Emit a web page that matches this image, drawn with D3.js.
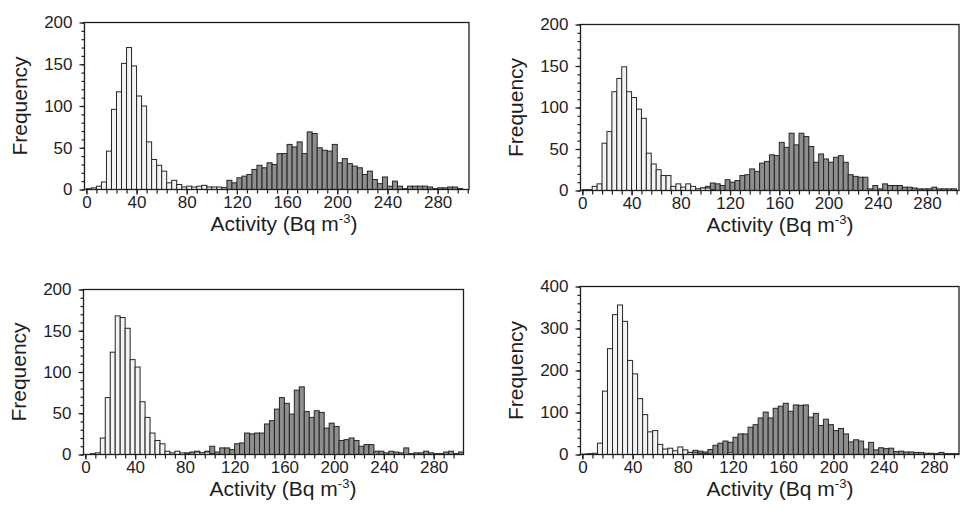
<!DOCTYPE html>
<html>
<head>
<meta charset="utf-8">
<script src="https://cdn.jsdelivr.net/npm/d3@7/dist/d3.min.js"></script>
<style>
body { margin: 0; background: #fff; }
svg { display: block; font-family: "Liberation Sans", Arial, Helvetica, sans-serif; }
</style>
</head>
<body>
<div id="chart"></div>
<script>
// histogram bins: 4 Bq m-3 wide, starting at 0
const binWidth = 4;
const binStarts = d3.range(0, 304, binWidth);

// top-left panel
const lowA = [1,2,4,9,46,96,117,151,170,148, 112,100,57,36,29,22,8,11,6,3,
  4,3,4,5,3,3,3,2,0,0, 0,0,0,0,0,0,0,0,0,0, 0,0,0,0,0,0,0,0,0,0,
  0,0,0,0,0,0,0,0,0,0, 0,0,0,0,0,0,0,0,0,0, 0,0,0,0,0,0];
const highA = [0,0,0,0,0,0,0,0,0,0, 0,0,0,0,0,0,0,0,0,0,
  1,2,1,4,1,2,2,2,11,8, 14,16,18,24,29,26,32,30,43,43, 54,51,57,43,69,67,50,47,46,54,
  32,37,31,28,26,18,22,12,7,15, 4,10,4,1,4,4,4,4,3,1, 2,2,3,3,1,0];

// top-right panel
const lowB = [1,1,5,8,57,71,119,135,149,119, 112,98,87,45,32,25,18,18,5,8,
  4,8,5,2,3,3,1,0,0,0, 0,0,0,0,0,0,0,0,0,0, 0,0,0,0,0,0,0,0,0,0,
  0,0,0,0,0,0,0,0,0,0, 0,0,0,0,0,0,0,0,0,0, 0,0,0,0,0,0];
const highB = [0,0,0,0,0,0,0,0,0,0, 0,0,0,0,0,0,0,0,0,0,
  1,1,2,2,3,5,9,8,6,13, 10,12,18,19,26,23,33,35,43,42, 58,52,69,55,69,65,53,34,44,38,
  34,40,42,34,19,17,16,16,2,6, 2,8,6,6,6,4,4,3,2,2, 2,4,2,2,2,2];

// bottom-left panel
const lowC = [0,1,2,20,69,124,168,166,153,115, 106,64,45,26,17,13,4,2,4,2,
  1,2,3,2,3,1,0,0,0,0, 0,0,0,0,0,0,0,0,0,0, 0,0,0,0,0,0,0,0,0,0,
  0,0,0,0,0,0,0,0,0,0, 0,0,0,0,0,0,0,0,0,0, 0,0,0,0,0,0];
const highC = [0,0,0,0,0,0,0,0,0,0, 0,0,0,0,0,0,0,0,0,1,
  2,3,4,2,4,10,3,8,8,6, 13,14,26,25,26,26,37,41,55,69, 62,49,78,82,52,45,53,51,32,38,
  34,17,18,20,17,10,12,12,4,4, 2,4,3,2,8,1,2,2,4,2, 1,1,3,4,1,3];

// bottom-right panel
const lowD = [1,2,3,27,151,252,333,356,317,224, 192,133,95,54,57,24,13,15,9,18,
  11,5,4,3,2,1,0,0,0,4, 0,0,0,0,0,0,0,0,0,0, 0,0,0,0,0,0,0,0,0,0,
  0,0,0,0,0,0,0,0,0,0, 0,0,0,0,0,0,0,0,0,0, 0,0,0,0,0,0];
const highD = [0,0,0,0,0,0,0,0,0,0, 0,0,0,0,0,0,0,0,0,0,
  3,5,10,8,6,12,22,27,32,29, 41,49,49,65,71,87,101,87,110,115, 122,103,118,117,118,89,98,69,84,71,
  57,62,49,30,35,32,13,29,11,16, 14,15,7,8,6,6,5,5,3,3, 2,5,2,2,2,0];

const xLabels = [0, 40, 80, 120, 160, 200, 240, 280];

const panels = [
    { low: lowA, high: highA, yMax: 200, yStep: 50, yMinor: 10, xMax: 305, left: 84.5, right: 469, top: 22.5, bottom: 189.5 },
    { low: lowB, high: highB, yMax: 200, yStep: 50, yMinor: 10, xMax: 306, left: 580.5, right: 959, top: 24.5, bottom: 190.5 },
    { low: lowC, high: highC, yMax: 200, yStep: 50, yMinor: 10, xMax: 304, left: 83.5, right: 463.5, top: 289.5, bottom: 454.5 },
    { low: lowD, high: highD, yMax: 400, yStep: 100, yMinor: 20, xMax: 300, left: 580.5, right: 959, top: 286.5, bottom: 454.5 }
];

const ink = '#1e1e1e';

const svg = d3.select('#chart').append('svg')
    .attr('width', 960)
    .attr('height', 517);

panels.forEach(function(p, i) {
    const x = d3.scaleLinear().domain([-1.5, p.xMax]).range([p.left, p.right]);
    const y = d3.scaleLinear().domain([0, p.yMax]).range([p.bottom, p.top]);

    const g = svg.append('g');

    svg.append('clipPath').attr('id', 'clip' + i)
        .append('rect')
        .attr('x', p.left).attr('y', p.top - 1)
        .attr('width', p.right - p.left).attr('height', p.bottom - p.top + 1);

    const bars = g.append('g').attr('clip-path', 'url(#clip' + i + ')');

    // gray series first, white series drawn over it
    [{ values: p.high, fill: '#8e8e8e' }, { values: p.low, fill: '#f3f3f3' }].forEach(function(s) {
        const rows = binStarts.map((b, k) => ({ b: b, v: s.values[k] })).filter(d => d.v > 0);
        bars.selectAll(null)
            .data(rows)
            .enter().append('rect')
            .attr('x', d => x(d.b))
            .attr('width', d => x(d.b + binWidth) - x(d.b))
            .attr('y', d => y(d.v))
            .attr('height', d => y(0) - y(d.v))
            .attr('fill', s.fill)
            .attr('stroke', '#262626')
            .attr('stroke-width', 1);
    });

    // frame
    g.append('rect')
        .attr('x', p.left).attr('y', p.top)
        .attr('width', p.right - p.left).attr('height', p.bottom - p.top)
        .attr('fill', 'none')
        .attr('stroke', ink)
        .attr('stroke-width', 1.3);

    // x axis: labelled ticks every 40, small ticks every 8
    const xMinor = g.append('g').attr('transform', `translate(0,${p.bottom})`)
        .call(d3.axisBottom(x).tickValues(d3.range(0, p.xMax, 8)).tickSize(4).tickFormat(() => ''));
    const xMajor = g.append('g').attr('transform', `translate(0,${p.bottom})`)
        .call(d3.axisBottom(x).tickValues(xLabels).tickSize(5).tickPadding(1));

    // y axis
    const yMinor = g.append('g').attr('transform', `translate(${p.left},0)`)
        .call(d3.axisLeft(y).tickValues(d3.range(0, p.yMax + 1, p.yMinor)).tickSize(3).tickFormat(() => ''));
    const yMajor = g.append('g').attr('transform', `translate(${p.left},0)`)
        .call(d3.axisLeft(y).tickValues(d3.range(0, p.yMax + 1, p.yStep)).tickSize(5).tickPadding(7));

    [xMinor, xMajor, yMinor, yMajor].forEach(function(a) {
        a.select('.domain').remove();
        a.selectAll('line').attr('stroke', ink).attr('stroke-width', 1.2);
        a.selectAll('text').attr('fill', ink).style('font-size', '17px');
    });

    // axis titles
    g.append('text')
        .attr('transform', `translate(${p.left - 58},${(p.top + p.bottom) / 2}) rotate(-90)`)
        .attr('text-anchor', 'middle')
        .attr('fill', ink)
        .style('font-size', '21px')
        .text('Frequency');

    const title = g.append('text')
        .attr('x', p.left + 126)
        .attr('y', p.bottom + 41)
        .attr('fill', ink)
        .style('font-size', '21px');
    title.append('tspan').text('Activity (Bq m');
    title.append('tspan').attr('dy', -8).style('font-size', '13px').text('-3');
    title.append('tspan').attr('dy', 8).text(')');
});
</script>
</body>
</html>
